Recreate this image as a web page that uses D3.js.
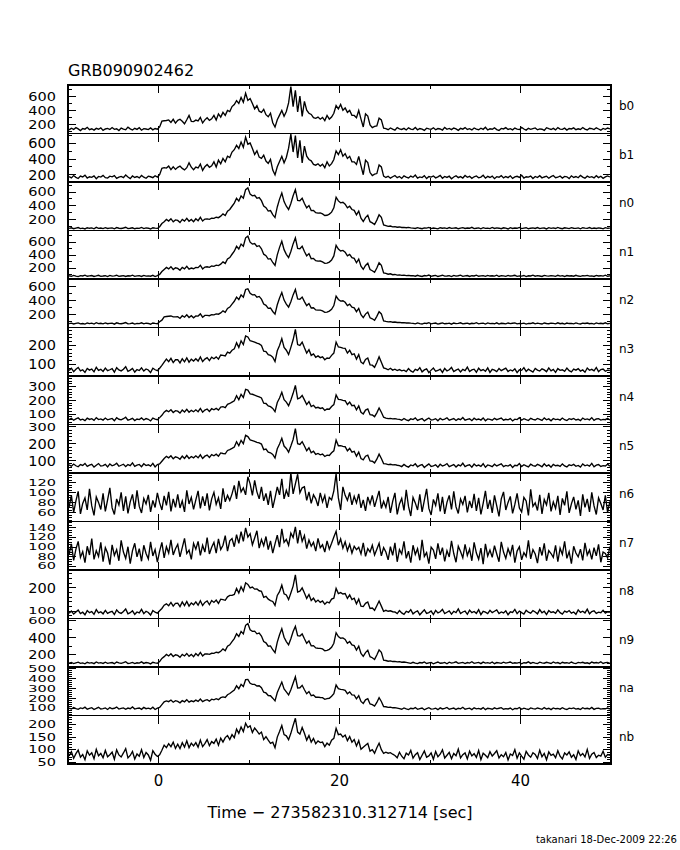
<!DOCTYPE html>
<html><head><meta charset="utf-8">
<script src="https://cdn.jsdelivr.net/npm/d3@7"></script>
<style>
body{margin:0;background:#fff}
svg text{font-family:"DejaVu Sans",sans-serif;fill:#000}
</style></head>
<body><svg id="chart" width="680" height="850"></svg>
<script>
// ---------------- data ----------------
const title = "GRB090902462";
const xLabel = "Time \u2212 273582310.312714 [sec]";
const footer = "takanari 18-Dec-2009 22:26";
const binStart = -10, binWidth = 0.25;
const xDomain = [-10, 50];
const xMajorTicks = [0, 20, 40];
const xMinorTicks = [10, 30];
const detectors = ["b0","b1","n0","n1","n2","n3","n4","n5","n6","n7","n8","n9","na","nb"];

const b0 = [128,152,135,160,142,118,147,139,165,131,144,125,150,138,158,122,141,149,133,162,137,145,120,155,140,130,168,143,127,151,136,159,124,146,141,133,157,129,148,138,
170,252,258,262,270,235,279,225,265,280,251,215,272,335,250,247,268,255,305,228,271,300,263,285,335,268,356,310,378,335,405,390,460,490,545,505,588,520,650,548,575,505,428,472,395,378,420,345,315,365,230,168,272,338,405,322,390,512,745,460,690,385,610,320,535,408,365,348,302,292,310,280,305,260,335,282,312,365,475,428,490,408,440,378,405,336,334,302,405,282,170,355,325,198,160,178,185,295,270,152,
146,131,155,138,124,160,142,135,150,127,157,140,133,162,129,148,139,121,153,144,136,158,130,147,141,126,164,137,149,132,155,143,122,150,139,161,134,145,128,156,140,131,152,136,165,127,144,138,158,133,120,149,142,160,135,146,129,154,139,132,163,141,125,151,137,147,156,130,143,138,122,159,145,134,150,128,161,140,136,153,126,148,142,157,131,144,135,162,139,127,152,146,133,158,141,124,149,137,155,143];

const b1 = [176,160,189,167,152,183,171,195,158,174,166,186,149,178,170,192,163,157,181,173,188,154,169,179,162,196,171,150,184,165,177,160,191,168,155,182,174,163,187,170,
200,282,290,285,310,265,300,268,295,310,281,262,290,352,296,265,298,286,336,255,302,330,295,315,365,298,386,340,408,365,436,420,490,520,575,535,618,550,680,590,605,535,458,505,425,408,450,375,345,395,260,198,302,368,435,352,420,540,720,490,700,415,640,352,565,438,395,378,332,322,340,310,335,290,365,312,342,395,505,458,520,438,470,408,435,366,364,332,435,312,200,385,355,228,190,208,215,325,300,182,
165,181,156,174,190,162,177,153,186,170,159,183,168,195,157,172,164,188,151,176,169,184,160,173,192,155,178,166,181,149,171,187,163,176,158,190,167,180,154,174,185,161,170,193,156,179,165,182,150,175,168,189,159,177,163,186,153,172,180,166,194,158,174,169,183,152,178,164,187,160,171,181,155,176,190,162,168,184,157,179,173,150,186,165,177,161,192,170,156,182,167,175,159,188,163,180,154,173,185,171];

const n0 = [75,84,71,80,88,73,79,68,85,77,82,70,90,76,81,72,86,74,79,83,69,87,78,74,81,92,72,77,84,70,80,76,89,73,82,78,67,85,79,75,
100,145,172,205,182,215,170,198,190,160,205,180,220,178,204,172,215,186,235,182,210,212,205,222,220,236,230,252,285,262,325,348,395,440,510,470,545,512,635,660,570,545,552,510,520,475,398,375,325,332,275,232,385,498,585,462,395,348,435,546,635,480,475,512,435,372,405,332,335,302,295,298,285,262,265,282,310,372,525,472,445,452,425,372,395,348,335,272,325,222,175,232,265,172,155,132,195,272,235,125,
115,104,109,98,101,92,96,88,91,85,89,83,80,74,86,77,71,83,79,90,73,81,76,68,85,78,82,72,88,75,80,84,70,79,87,74,81,77,91,73,78,83,69,86,76,80,72,89,75,82,78,71,84,79,67,86,74,81,77,90,73,80,85,70,78,83,75,88,72,79,81,68,86,76,82,74,89,77,71,84,80,73,87,78,75,82,70,85,79,76,88,72,81,74,83,78,69,86,77,80];

const n1 = [88,79,94,83,76,90,85,98,81,87,92,78,86,95,80,84,89,75,93,82,87,96,79,85,91,77,88,84,97,80,86,90,78,93,83,87,81,95,76,89,
108,152,185,215,192,226,183,210,200,172,215,193,232,188,205,195,214,212,248,192,221,225,216,236,232,250,243,265,300,276,342,365,415,462,535,494,570,536,665,690,598,570,577,535,545,498,416,394,342,348,290,245,405,520,612,485,414,365,456,572,664,505,498,536,456,390,425,348,352,318,310,312,300,276,279,296,326,390,550,495,466,473,446,390,414,364,352,286,342,235,186,245,279,182,165,140,205,286,248,130,
125,112,118,104,108,99,102,94,97,91,93,88,90,81,95,84,78,92,86,99,80,88,93,77,87,96,82,85,90,76,94,83,88,97,80,86,92,78,89,85,98,81,87,91,79,94,84,88,82,96,77,90,86,79,93,84,89,95,80,87,83,92,76,88,85,97,81,90,84,78,94,86,82,91,87,80,96,83,89,77,92,85,88,81,95,84,79,90,86,93,82,87,78,94,85,89,83,97,80,88];

const n2 = [67,75,63,72,79,65,70,61,77,69,74,62,81,68,73,64,78,66,71,75,60,79,70,66,73,83,64,69,76,62,72,68,80,65,74,70,59,77,71,67,
95,118,165,170,174,178,165,166,168,143,182,160,195,156,182,152,178,177,208,161,186,187,182,196,195,209,204,222,252,231,287,306,350,390,450,416,482,450,560,570,504,482,486,450,460,420,350,332,288,293,243,205,340,438,516,407,350,306,384,482,560,425,420,451,385,328,358,293,296,266,262,262,252,231,234,249,274,328,463,416,393,398,375,328,349,306,296,240,287,196,155,205,234,152,138,117,173,240,208,108,
100,94,97,88,91,84,86,80,82,77,79,75,72,65,78,68,62,75,70,81,64,71,76,61,70,79,66,69,74,60,77,67,72,80,64,70,75,63,73,68,82,65,71,74,62,78,68,72,66,79,61,73,70,64,77,68,73,78,65,71,67,75,61,72,69,80,65,74,68,62,77,70,66,75,71,64,79,67,73,61,76,69,72,65,78,68,63,74,70,76,66,71,62,78,69,73,67,80,64,72];

const n3 = [68,80,62,75,84,66,72,58,79,70,76,61,85,69,74,63,81,67,72,78,59,83,71,66,75,88,64,70,79,60,73,68,82,65,76,71,57,80,72,67,
80,95,112,128,115,132,110,125,125,108,130,114,135,112,128,118,130,118,140,115,128,136,120,138,130,140,128,150,148,145,165,160,175,182,215,190,225,205,250,245,225,222,218,212,208,200,170,168,152,148,138,115,172,200,236,190,175,152,190,230,285,205,200,218,188,160,178,148,156,138,145,136,140,125,134,132,148,160,218,192,190,186,185,160,175,152,156,128,152,112,104,126,134,98,96,85,110,140,112,82,
78,72,80,70,75,68,73,66,70,62,78,66,59,74,69,83,61,71,77,57,70,81,64,68,75,58,79,66,72,84,62,70,76,60,74,67,86,63,71,75,59,80,67,73,64,82,58,74,70,62,79,67,74,81,63,71,66,77,57,72,69,83,63,75,67,60,79,70,65,77,71,62,82,66,74,58,78,69,72,64,81,67,61,75,70,78,65,71,59,81,69,74,66,84,62,73,76,64,70,68];

const n4 = [60,70,56,66,73,58,64,53,71,62,67,55,75,61,66,57,72,59,64,69,52,74,63,59,67,78,57,62,70,54,65,61,73,58,68,63,51,71,64,60,
75,92,115,128,118,132,112,126,122,108,130,116,135,114,128,118,132,118,142,115,130,138,120,140,132,142,130,152,155,148,172,178,188,198,235,205,245,222,280,275,248,245,238,232,226,218,180,178,160,155,142,118,185,218,260,205,188,162,204,252,310,212,218,236,204,170,192,155,165,145,150,142,146,128,138,136,156,170,240,208,206,200,198,170,188,162,165,132,160,114,102,130,138,96,94,82,110,145,114,78,
72,68,70,66,68,64,62,56,69,59,53,66,61,73,55,63,68,51,62,72,57,60,67,52,70,59,64,74,56,62,68,54,66,60,76,56,63,67,53,71,60,65,57,73,52,66,62,56,70,60,66,72,56,63,59,68,51,64,61,74,56,67,60,54,70,62,58,69,63,55,73,59,66,52,69,61,64,57,72,60,54,67,62,69,58,63,53,72,61,66,59,75,55,65,68,57,62,60,70,58];

const n5 = [74,66,79,69,63,76,71,83,65,73,78,61,72,82,67,70,77,62,80,69,74,84,66,72,78,64,76,70,86,66,73,77,63,81,70,75,67,83,62,76,
80,96,112,125,116,128,110,122,118,108,126,112,130,112,124,116,128,116,134,112,126,132,118,135,128,138,126,145,142,140,160,165,172,180,212,188,220,200,250,242,222,218,214,208,205,198,165,168,150,146,136,115,170,198,232,186,172,150,186,225,290,200,196,212,186,158,176,146,155,136,142,134,138,124,132,130,146,158,222,188,188,184,182,158,172,150,155,126,150,112,104,126,132,98,96,86,108,138,112,82,
80,76,78,74,76,72,70,64,77,67,61,74,69,81,63,71,76,59,70,80,65,68,75,60,78,67,72,82,64,70,76,62,74,68,84,64,71,75,61,79,68,73,65,81,60,74,70,64,78,68,74,80,64,71,67,76,59,72,69,82,64,75,68,62,78,70,66,77,71,63,81,67,74,60,77,69,72,65,80,68,62,75,70,77,66,71,61,80,69,74,67,83,63,73,76,65,70,68,78,66];

const n6 = [72,95,61,84,103,58,79,90,66,108,74,55,92,81,67,99,63,86,110,70,57,88,76,101,64,93,59,82,97,68,105,73,60,89,78,96,62,85,71,100,
80,66,94,75,102,63,88,71,97,70,84,62,105,78,91,67,86,104,69,93,74,99,65,88,101,77,90,68,109,82,95,85,98,115,88,124,102,110,96,132,118,95,125,102,88,112,84,99,76,104,70,90,112,96,128,88,105,92,140,98,118,137,100,110,112,85,102,79,96,88,74,100,82,95,70,91,86,104,138,90,66,112,95,85,101,76,93,80,98,70,86,64,92,78,95,72,88,104,69,83,
71,92,60,83,100,57,78,89,65,106,73,54,91,80,66,97,62,85,108,69,56,87,75,99,63,92,58,81,95,67,103,72,59,88,77,94,61,84,70,98,64,90,57,79,104,68,86,60,95,74,53,88,102,66,81,93,59,77,99,70,62,91,84,55,107,73,80,65,96,58,87,76,100,63,82,69,94,56,89,75,103,60,78,92,67,85,54,97,71,88,62,101,74,57,90,79,66,95,61,83];

const n7 = [86,107,73,96,112,79,91,68,102,84,118,75,93,81,110,70,99,88,64,105,83,95,72,114,90,77,101,66,93,108,80,97,71,104,87,76,111,82,95,69,
92,110,78,101,88,115,84,97,106,80,99,118,87,94,75,108,96,112,83,104,90,120,86,100,110,88,117,95,104,124,92,113,118,101,126,108,132,112,140,121,128,105,119,134,98,116,103,122,95,113,88,107,125,100,138,110,116,104,129,120,142,108,135,112,124,97,115,102,110,92,118,99,105,90,113,96,108,121,133,104,117,98,111,93,106,88,102,95,100,86,109,81,97,90,104,84,96,108,82,99,
90,74,101,83,109,70,95,86,112,77,92,68,104,85,97,73,115,81,89,66,100,94,76,108,84,99,71,93,80,113,87,69,102,91,78,106,83,96,72,110,88,75,98,65,107,82,94,79,103,86,70,111,90,77,97,84,105,68,92,101,74,89,81,114,76,95,86,67,100,83,108,72,93,87,79,104,70,98,85,112,77,91,66,102,88,80,96,73,109,84,94,75,99,82,106,69,90,87,78,101];

const n8 = [92,101,88,97,105,90,96,85,103,94,99,87,107,93,98,89,104,91,96,100,86,106,95,91,99,110,89,94,102,87,97,93,108,90,100,95,84,103,96,92,
102,112,126,132,124,138,122,134,135,120,140,124,142,122,136,128,140,126,145,125,138,144,128,146,138,148,134,152,150,147,162,168,168,172,198,178,205,186,222,215,200,204,195,196,188,186,160,164,152,146,142,125,168,184,212,175,170,150,178,208,256,182,186,200,178,155,172,146,156,140,148,138,144,130,140,136,152,156,198,176,180,174,176,155,170,150,156,132,152,122,120,134,140,112,114,104,124,144,122,100,
104,100,102,98,97,90,103,93,87,100,95,107,89,97,102,85,96,106,91,94,101,86,104,93,98,108,90,96,102,88,100,94,110,90,97,101,87,105,94,99,91,107,86,100,96,90,104,94,100,106,90,97,93,102,85,98,95,108,90,101,94,88,104,96,92,103,97,89,107,93,100,86,103,95,98,91,106,94,88,101,96,103,92,97,87,106,95,100,93,109,89,99,102,91,96,94,104,92,98,95];

const n9 = [98,107,94,103,111,96,102,91,109,100,105,93,113,99,104,95,110,97,102,106,92,112,101,97,105,116,95,100,108,93,103,99,114,96,106,101,90,109,102,98,
118,155,176,202,184,210,178,198,190,168,202,184,214,180,203,176,212,188,226,184,207,208,203,216,215,228,223,240,268,247,300,316,355,390,448,415,476,446,548,568,495,476,479,447,455,420,355,340,300,304,258,224,348,436,507,407,355,316,388,475,535,424,420,446,388,335,363,304,307,279,276,275,268,247,251,263,287,335,460,415,395,399,380,335,355,315,307,255,300,215,180,224,251,175,163,143,195,255,228,135,
130,122,126,118,120,114,116,110,112,108,103,96,109,99,93,106,101,113,95,103,108,91,102,112,97,100,107,92,110,99,104,114,96,102,108,94,106,100,116,96,103,107,93,111,100,105,97,113,92,106,102,96,110,100,106,112,96,103,99,108,91,104,101,114,96,107,100,94,110,102,98,109,103,95,113,99,106,92,109,101,104,97,112,100,94,107,102,109,98,103,93,112,101,106,99,115,95,105,108,97];

const na = [104,95,111,99,92,107,100,114,94,102,109,90,101,113,96,99,106,91,110,98,103,115,95,101,107,93,105,99,117,95,102,106,92,112,99,104,96,114,91,105,
112,140,168,178,170,186,164,180,172,158,180,168,190,165,178,170,185,172,196,170,182,190,175,195,188,200,190,210,218,212,240,252,270,288,330,300,345,322,392,395,355,345,344,328,330,310,265,258,232,230,205,178,262,316,368,298,268,238,290,355,420,308,310,335,290,250,272,230,236,214,215,212,210,193,200,204,224,250,338,302,294,292,284,250,268,238,236,198,230,172,152,188,200,146,140,126,162,210,172,120,
118,112,114,108,110,105,100,93,106,96,90,103,98,110,92,100,105,88,99,109,94,97,104,89,107,96,101,111,93,99,105,91,103,97,113,93,100,104,90,108,97,102,94,110,89,103,99,93,107,97,103,109,93,100,96,105,88,101,98,111,93,104,97,91,107,99,95,106,100,92,110,96,103,89,106,98,101,94,109,97,91,104,99,106,95,100,90,109,98,103,96,112,92,102,105,94,99,97,107,95];

const nb = [75,92,66,84,98,70,81,60,95,78,88,64,101,76,85,68,97,72,80,90,62,99,79,71,87,104,67,77,93,63,83,74,100,69,89,79,58,96,82,73,
80,98,118,108,124,112,130,105,122,104,128,110,135,108,126,115,128,110,138,112,124,140,116,132,125,142,118,146,130,148,156,140,160,148,182,165,190,172,205,188,195,168,186,175,162,170,140,152,138,125,130,108,150,172,196,160,155,140,165,196,225,170,162,188,165,138,156,130,145,124,135,128,130,112,126,118,138,145,185,160,162,150,158,136,152,130,140,115,136,102,110,118,125,94,100,86,108,126,100,85,
90,86,88,82,77,68,90,74,64,86,79,97,66,80,88,61,78,95,70,75,87,62,93,72,82,99,67,78,89,64,85,76,102,67,80,87,63,94,75,84,69,97,60,86,78,68,92,75,85,96,67,80,72,89,59,83,77,100,66,87,74,62,93,79,70,88,81,65,98,72,85,60,91,77,82,68,96,74,63,87,79,91,70,80,61,95,76,85,71,101,65,82,89,69,78,74,94,70,81,77];

const series = [b0,b1,n0,n1,n2,n3,n4,n5,n6,n7,n8,n9,na,nb];
const yDomains = [[77,767],[107,727],[45,745],[39,776],[12,711],[39,295],[25,378],[26,314],[43,139.5],[53,153],[69,277],[53,629],[30,520],[43,236]];
const yLabels = [[200,400,600],[200,400,600],[200,400,600],[200,400,600],[200,400,600],[100,200],[100,200,300],[100,200,300],[60,80,100,120],[60,80,100,120,140],[100,200],[200,400,600],[100,200,300,400,500],[50,100,150,200]];
const yMinorStep = [100,100,100,100,100,20,20,20,5,5,20,100,20,10];

// ---------------- drawing ----------------
const svg = d3.select("#chart");
const L = 68, R = 611, T = 85, PH = 48.5;
const LABEL_FS = 14.5;
const x = d3.scaleLinear().domain(xDomain).range([L, R]);

svg.append("text").attr("x", 68).attr("y", 76).attr("font-size", 16).text(title);

const labelPos = [];
series.forEach((vals, i) => {
  const top = T + i*PH;
  const g = svg.append("g").attr("transform", `translate(0,${top})`);
  const y = d3.scaleLinear().domain(yDomains[i]).range([PH, 0]);
  const cid = "clip" + i;
  g.append("clipPath").attr("id", cid).append("rect").attr("x", L).attr("y", 0).attr("width", R - L).attr("height", PH);
  const pts = vals.map((v, k) => [binStart + (k + 0.5)*binWidth, v]);
  const line = d3.line().x(d => x(d[0])).y(d => y(d[1]));
  g.append("path").attr("d", line(pts)).attr("fill", "none").attr("stroke", "#000")
    .attr("stroke-width", 1.35).attr("stroke-linejoin", "miter").attr("clip-path", `url(#${cid})`);
  g.append("rect").attr("x", L).attr("y", 0).attr("width", R - L).attr("height", PH)
    .attr("fill", "none").attr("stroke", "#000").attr("stroke-width", 1.2).attr("shape-rendering","crispEdges");

  const [d0, d1] = yDomains[i];
  const step = yMinorStep[i];
  const minors = d3.range(Math.ceil(d0/step)*step, d1, step);
  minors.forEach(v => {
    const major = yLabels[i].includes(v);
    const len = major ? 8 : 4;
    const yy = y(v);
    g.append("line").attr("x1", L).attr("x2", L + len).attr("y1", yy).attr("y2", yy).attr("stroke", "#000").attr("shape-rendering","crispEdges");
    g.append("line").attr("x1", R).attr("x2", R - len).attr("y1", yy).attr("y2", yy).attr("stroke", "#000").attr("shape-rendering","crispEdges");
  });
  yLabels[i].forEach(v => labelPos.push({v, y: top + y(v)}));
  xMajorTicks.concat(xMinorTicks).forEach(t => {
    const len = xMajorTicks.includes(t) ? 8 : 4;
    g.append("line").attr("x1", x(t)).attr("x2", x(t)).attr("y1", 0).attr("y2", len).attr("stroke", "#000").attr("shape-rendering","crispEdges");
    g.append("line").attr("x1", x(t)).attr("x2", x(t)).attr("y1", PH).attr("y2", PH - len).attr("stroke", "#000").attr("shape-rendering","crispEdges");
  });
  g.append("text").attr("x", 619).attr("y", PH/2 - 3).attr("dominant-baseline", "central")
    .attr("font-size", 12).text(detectors[i]);
});

// y tick labels: squeezed vertically only where they would collide
labelPos.sort((a, b) => a.y - b.y);
labelPos.forEach((p, k) => {
  const gapUp = k > 0 ? p.y - labelPos[k-1].y : 99;
  const gapDn = k < labelPos.length - 1 ? labelPos[k+1].y - p.y : 99;
  const gap = Math.min(gapUp, gapDn);
  const boxH = LABEL_FS * 1.1;
  const s = Math.min(1, (gap - 0.6) / boxH);
  svg.append("text").attr("transform", `translate(56,${p.y}) scale(1,${s})`)
    .attr("text-anchor", "end").attr("dominant-baseline", "central")
    .attr("font-size", LABEL_FS).text(p.v);
});

const bottom = T + series.length*PH;
xMajorTicks.forEach(t => {
  svg.append("text").attr("x", x(t)).attr("y", bottom + 22).attr("text-anchor", "middle")
    .attr("font-size", 15).text(t);
});
svg.append("text").attr("x", 340).attr("y", 818).attr("text-anchor", "middle").attr("font-size", 16).text(xLabel);
svg.append("text").attr("x", 677).attr("y", 843).attr("text-anchor", "end").attr("font-size", 10).text(footer);
</script>
</body></html>
